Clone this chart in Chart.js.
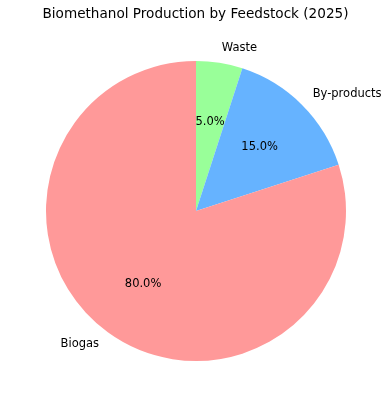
<!DOCTYPE html>
<html>
<head>
<meta charset="utf-8">
<script src="https://cdn.jsdelivr.net/npm/chart.js@4"></script>
<style>
  html, body { margin: 0; padding: 0; background: #fff; }
  #wrap { width: 391px; height: 407px; }
</style>
</head>
<body>
<div id="wrap"><canvas id="myChart" width="391" height="407"></canvas></div>
<script>
//datos (orden horario desde arriba)
const feedstocks = ['Waste', 'By-products', 'Biogas'];
const shares = [5, 15, 80];
const colores = ['#99ff99', '#66b3ff', '#ff9999'];
const titulo = 'Biomethanol Production by Feedstock (2025)';

const fuente = '"DejaVu Sans", sans-serif';

//plugin para titulo, etiquetas y porcentajes estilo matplotlib
const etiquetas = {
    id: 'etiquetas',
    afterDraw(chart) {
        const ctx = chart.ctx;
        const meta = chart.getDatasetMeta(0);
        const total = shares.reduce((a, b) => a + b, 0);
        ctx.save();
        ctx.fillStyle = '#000';
        ctx.font = '13.6px ' + fuente;
        ctx.textAlign = 'center';
        ctx.textBaseline = 'middle';
        ctx.fillText(titulo, chart.width / 2, 14);

        ctx.font = '11.5px ' + fuente;
        meta.data.forEach((arc, i) => {
            const mid = (arc.startAngle + arc.endAngle) / 2;
            const r = arc.outerRadius;
            const cx = arc.x, cy = arc.y;
            // etiqueta afuera
            const lx = cx + Math.cos(mid) * r * 1.1;
            const ly = cy + Math.sin(mid) * r * 1.1;
            ctx.textAlign = Math.cos(mid) >= 0 ? 'left' : 'right';
            ctx.fillText(feedstocks[i], lx, ly);
            // porcentaje adentro
            const px = cx + Math.cos(mid) * r * 0.6;
            const py = cy + Math.sin(mid) * r * 0.6;
            ctx.textAlign = 'center';
            ctx.fillText((shares[i] / total * 100).toFixed(1) + '%', px, py);
        });
        ctx.restore();
    }
};

let ctx = document.getElementById('myChart').getContext('2d');
let myChart = new Chart(ctx, {
    type: 'pie',
    data: {
        labels: feedstocks,
        datasets: [{
            data: shares,
            backgroundColor: colores,
            borderWidth: 0
        }]
    },
    options: {
        responsive: false,
        animation: false,
        layout: { padding: { top: 61, bottom: 46, left: 46, right: 45 } },
        plugins: {
            legend: { display: false },
            tooltip: { enabled: false },
            title: { display: false }
        }
    },
    plugins: [etiquetas]
});
</script>
</body>
</html>
